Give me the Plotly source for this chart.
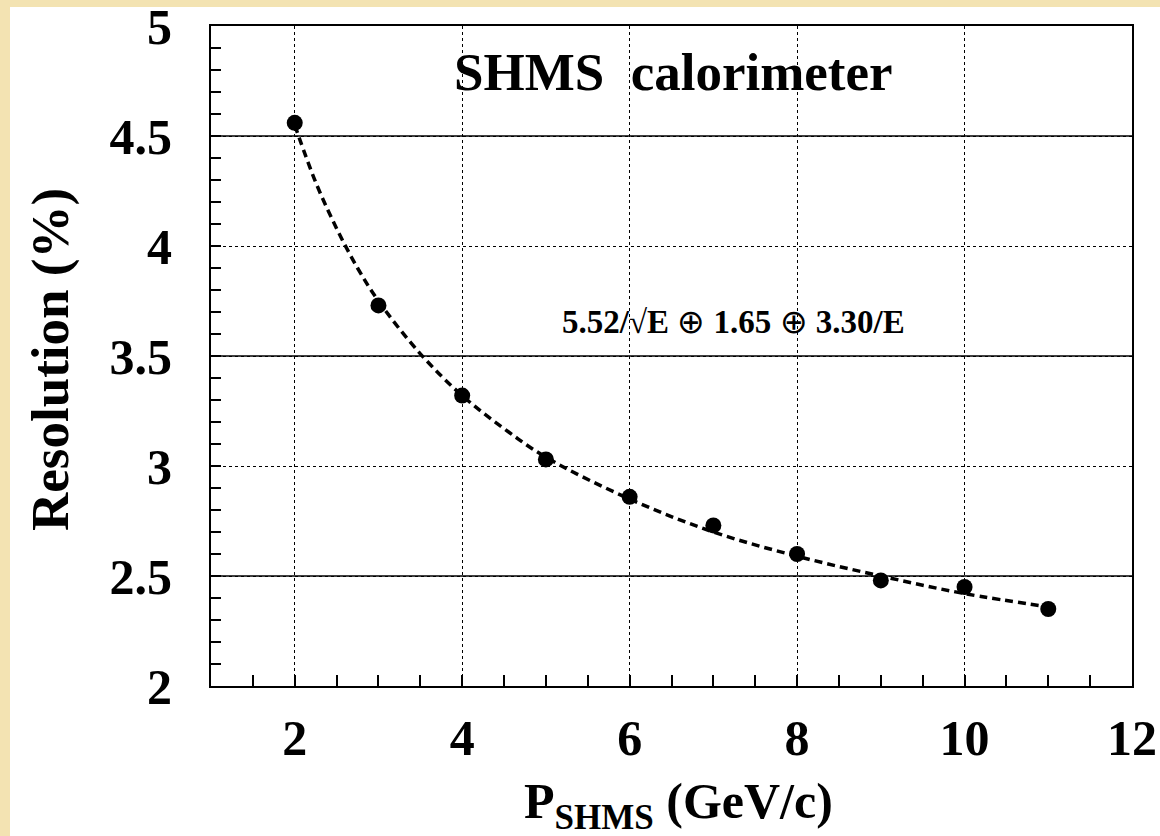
import plotly.graph_objects as go

# Data
momentum = [2, 3, 4, 5, 6, 7, 8, 9, 10, 11]
resolution = [4.56, 3.73, 3.32, 3.03, 2.86, 2.73, 2.60, 2.48, 2.45, 2.35]

fit_x = [2, 2.25, 2.5, 2.75, 3, 3.5, 4, 4.5, 5, 6, 7, 8, 9, 10, 11]
fit_y = [4.55, 4.29, 4.08, 3.90, 3.75, 3.51, 3.32, 3.17, 3.04, 2.85, 2.70, 2.59, 2.50, 2.42, 2.36]

y_tick_values = [2, 2.5, 3, 3.5, 4, 4.5, 5]
y_tick_labels = ["2", "2.5", "3", "3.5", "4", "4.5", "5"]
x_tick_values = [2, 4, 6, 8, 10, 12]
x_tick_labels = ["2", "4", "6", "8", "10", "12"]

solid_grid_levels = [2.5, 3.5, 4.5]

title_text = "SHMS  calorimeter"
oplus = '<span style="font-weight:normal">\u2295</span>'
formula_text = f"5.52/\u221aE {oplus} 1.65 {oplus} 3.30/E"
x_title = "P<sub>SHMS</sub> (GeV/c)"
y_title = "Resolution (%)"

FONT = "Liberation Serif, Times New Roman, serif"
BEIGE = "#F3E3B2"
W, H = 1160, 836
L, R, T, B = 211, 28, 26, 150
PW, PH = W - L - R, H - T - B


def px_x(x):
    return (x - L) / PW


def px_y(y):
    return (H - B - y) / PH


fig = go.Figure()

fig.add_trace(go.Scatter(
    x=fit_x, y=fit_y, mode="lines", line_shape="spline",
    line=dict(color="black", width=3.5, dash="8px,5px"),
    hoverinfo="skip", showlegend=False,
))
fig.add_trace(go.Scatter(
    x=momentum, y=resolution, mode="markers",
    marker=dict(color="black", size=16, symbol="circle"),
    showlegend=False,
))

shapes = [
    # white page panel over the beige background
    dict(type="rect", xref="paper", yref="paper",
         x0=px_x(10), x1=px_x(W + 5), y0=px_y(H + 5), y1=px_y(7),
         fillcolor="white", line=dict(width=0), layer="below"),
]
for lev in solid_grid_levels:
    shapes.append(dict(type="line", xref="paper", yref="y", x0=0, x1=1,
                       y0=lev, y1=lev, line=dict(color="black", width=1.5),
                       layer="below"))

annotations = [
    dict(text=f"<b>{title_text}</b>", xref="paper", yref="paper",
         x=px_x(673), y=px_y(72), xanchor="center", yanchor="middle",
         showarrow=False, font=dict(family=FONT, size=53, color="black")),
    dict(text=f"<b>{formula_text}</b>", xref="paper", yref="paper",
         x=px_x(733), y=px_y(322), xanchor="center", yanchor="middle",
         showarrow=False, font=dict(family=FONT, size=33, color="black")),
    dict(text=f"<b>{y_title}</b>", xref="paper", yref="paper",
         x=px_x(50), y=px_y(360), xanchor="center", yanchor="middle",
         textangle=-90, showarrow=False,
         font=dict(family=FONT, size=53, color="black")),
    dict(text=f"<b>{x_title}</b>", xref="paper", yref="paper",
         x=px_x(678), y=px_y(805), xanchor="center", yanchor="middle",
         showarrow=False, font=dict(family=FONT, size=50, color="black")),
]

fig.update_layout(
    width=W, height=H,
    margin=dict(l=L, r=R, t=T, b=B, pad=0, autoexpand=False),
    paper_bgcolor=BEIGE,
    plot_bgcolor="white",
    shapes=shapes,
    annotations=annotations,
    showlegend=False,
    xaxis=dict(
        range=[1, 12], tickmode="array", tickvals=x_tick_values,
        ticktext=x_tick_labels, automargin=False,
        showline=True, linecolor="black", linewidth=2, mirror=True,
        ticks="inside", ticklen=11, tickwidth=1.5, tickcolor="black",
        showgrid=True, gridcolor="black", gridwidth=1, griddash="dot",
        zeroline=False, ticklabeloverflow="allow",
        tickfont=dict(family=FONT, size=50, color="black", weight="bold"),
        ticklabelstandoff=7,
        minor=dict(dtick=0.5, tick0=0, ticks="inside", ticklen=11, tickwidth=1.5,
                   tickcolor="black", showgrid=False),
    ),
    yaxis=dict(
        range=[2, 5], tickmode="array", tickvals=y_tick_values,
        ticktext=y_tick_labels, automargin=False,
        showline=True, linecolor="black", linewidth=2, mirror=True,
        ticks="inside", ticklen=10, tickwidth=1.5, tickcolor="black",
        showgrid=True, gridcolor="black", gridwidth=1, griddash="dot",
        zeroline=False, ticklabeloverflow="allow",
        tickfont=dict(family=FONT, size=50, color="black", weight="bold"),
        ticklabelstandoff=27,
        minor=dict(dtick=0.1, tick0=0, ticks="inside", ticklen=10, tickwidth=1.5,
                   tickcolor="black", showgrid=False),
    ),
)

# remove the browser's default body margin so the figure sits at the window origin
post = ("document.body.style.margin='0';"
        "document.body.style.overflow='hidden';"
        f"document.body.style.background='{BEIGE}';")

fig.write_html("out.html", post_script=post, config={"displayModeBar": False})
